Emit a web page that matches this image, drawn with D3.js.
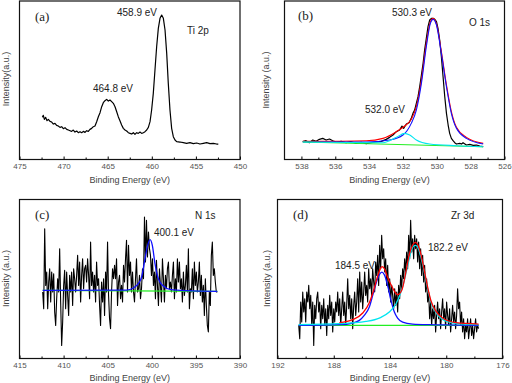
<!DOCTYPE html>
<html><head><meta charset="utf-8">
<script src="https://cdn.jsdelivr.net/npm/d3@7"></script>
<style>body{margin:0;background:#fff}svg{display:block}</style>
</head><body>
<svg id="chart" width="512" height="383"></svg>
<script>
// ---------- (a) Ti 2p ----------
const aEnergy = [472.41,472.30,472.18,472.03,471.88,471.73,471.54,471.35,471.16,470.98,470.79,470.60,470.41,470.22,470.03,469.84,469.65,469.46,469.27,469.09,468.90,468.71,468.52,468.33,468.14,467.95,467.76,467.57,467.39,467.20,467.01,466.82,466.63,466.44,466.25,466.06,465.87,465.68,465.50,465.31,465.12,464.93,464.74,464.55,464.36,464.17,463.98,463.80,463.61,463.42,463.23,463.04,462.85,462.66,462.47,462.28,462.09,461.91,461.72,461.53,461.34,461.15,460.96,460.77,460.58,460.39,460.20,460.02,459.83,459.64,459.45,459.26,459.07,458.88,458.69,458.50,458.31,458.13,457.94,457.75,457.56,457.37,457.18,456.80,456.43,456.05,455.67,455.29,454.91,454.54,454.16,453.78,453.40,453.02,452.65,452.46];
const aIntensity = [127,133,121,127,117,121,115,113,107,109,103,101,97,99,93,96,91,89,87,85,89,83,86,81,84,81,85,82,87,85,91,94,99,101,114,129,141,159,171,177,181,176,179,174,169,159,144,129,117,104,94,89,86,81,79,77,81,76,81,79,83,79,81,84,89,97,114,149,199,269,339,394,424,434,424,389,319,229,149,94,69,59,54,53,51,49,51,48,50,47,49,51,48,49,47,47];
const aTicks = [475,470,465,460,455,450];

// ---------- (b) O 1s ----------
const bEnergy = [537.92,537.73,537.53,537.33,537.13,536.94,536.74,536.54,536.34,536.15,535.95,535.65,535.36,535.06,534.76,534.47,534.17,533.88,533.58,533.28,532.99,532.79,532.59,532.39,532.20,532.06,531.96,531.80,531.64,531.51,531.41,531.31,531.21,531.11,531.01,530.91,530.81,530.72,530.62,530.52,530.42,530.32,530.22,530.12,530.02,529.93,529.83,529.73,529.63,529.53,529.43,529.33,529.24,529.14,529.04,528.94,528.84,528.64,528.54,528.45,528.25,528.05,527.85,527.66,527.46,527.26];
const bIntensity = [54,57,51,59,55,61,64,59,62,57,53,55,51,54,49,52,48,51,53,55,61,67,74,84,89,101,94,107,111,124,139,149,169,189,219,254,289,329,364,399,419,424,424,421,414,394,359,309,249,189,139,104,79,64,57,51,47,49,47,51,44,46,43,44,41,39];
const bEnvelopeEnergy = [537.92,534.17,533.18,532.39,531.90,531.51,531.21,530.91,530.62,530.38,530.22,530.02,529.73,529.43,529.14,528.84,528.25,527.26];
const bEnvelope = [55,57,64,84,101,121,159,239,349,414,424,407,324,224,144,97,67,49];
const bMainEnergy = [537.92,534.17,532.79,532.00,531.51,531.21,530.91,530.62,530.38,530.22,530.02,529.73,529.43,529.14,528.84,528.25,527.26];
const bMain = [53,53,59,74,109,149,229,339,409,421,404,319,219,139,94,64,47];
const bMinorEnergy = [537.92,533.18,532.39,531.90,531.60,531.21,530.42,528.84,527.26];
const bMinor = [53,51,67,79,74,59,47,42,39];
const bBaseEnergy = [537.92,527.26];
const bBase = [53,39];
const bTicks = [538,536,534,532,530,528,526];

// ---------- (c) N 1s ----------
const cEnergyRange = [412.37, 392.57];
const cIntensity = [200,150,390,220,260,150,230,270,170,260,200,255,140,100,180,240,200,330,170,40,110,220,265,150,260,190,130,250,200,260,160,270,240,200,250,310,220,290,170,250,300,210,270,280,230,300,250,180,350,220,260,200,250,170,290,220,240,160,100,230,170,240,130,260,200,350,190,120,90,200,270,240,280,240,300,160,230,250,180,220,170,280,230,300,355,200,340,250,290,200,260,200,170,240,300,200,210,250,180,210,270,240,425,290,415,305,380,330,310,250,300,220,260,180,295,220,160,270,220,170,300,240,170,250,210,270,290,210,230,200,250,290,180,240,200,300,230,290,210,240,170,260,190,220,280,200,330,150,210,200,270,180,290,220,260,200,230,290,190,250,170,220,130,240,160,100,80,200,160,310,350,250,270,230,200,200];
const cPeakEnergy = [412.37,402.85,402.09,401.53,401.15,400.77,400.47,400.20,399.94,399.64,399.26,398.69,397.94,396.05,392.57];
const cPeak = [205,206,212,225,245,300,340,357,340,285,240,218,208,204,202];
const cBaseEnergy = [412.37,392.57];
const cBase = [205,202];
const cTicks = [415,410,405,400,395,390];

// ---------- (d) Zr 3d ----------
const dEnergyRange = [190.49, 177.70];
const dIntensity = [100,60,170,110,200,140,180,110,200,170,220,150,190,100,170,40,160,120,180,200,140,170,90,160,120,180,100,150,70,160,120,190,130,170,80,150,110,170,140,200,130,180,100,150,200,130,170,100,160,240,150,190,120,180,90,160,200,130,170,240,140,260,170,230,150,200,260,190,220,170,270,210,240,190,270,230,200,290,250,310,220,340,270,370,300,330,260,300,220,280,200,240,170,220,190,150,210,160,200,140,220,180,250,210,270,240,300,260,320,270,370,300,415,320,360,300,370,330,360,290,350,270,330,250,310,230,280,200,240,170,200,120,170,100,150,120,160,80,130,170,120,150,90,140,180,120,150,90,170,130,100,150,80,120,160,110,140,90,130,210,150,170,100,140,80,120,60,100,80,120,60,90,120,70,100,60,90,120,80,100,90];
const dEnvelopeEnergy = [187.60,186.66,185.94,185.47,185.11,184.88,184.71,184.57,184.40,184.17,183.81,183.46,183.15,182.86,182.63,182.39,182.20,182.01,181.80,181.56,181.32,181.09,180.73,180.26,179.31,177.70];
const dEnvelope = [108,117,137,168,213,248,268,276,270,244,212,192,207,262,312,341,349,341,312,264,214,174,142,122,108,104];
const dPeak1Energy = [190.50,187.60,186.66,186.18,185.83,185.47,185.23,185.00,184.76,184.57,184.38,184.17,183.93,183.69,183.46,183.10,182.39,181.20,179.31,177.70];
const dPeak1 = [100,102,107,115,130,155,190,225,252,260,250,220,175,140,122,110,104,102,101,100];
const dPeak2Energy = [190.50,187.60,185.71,184.76,184.05,183.57,183.22,182.98,182.74,182.51,182.34,182.20,182.03,181.80,181.56,181.32,181.09,180.73,180.26,179.31,177.70];
const dPeak2 = [102,105,112,122,140,165,200,235,280,320,337,340,335,305,260,210,170,138,118,106,102];
const dBaseEnergy = [190.50,177.70];
const dBase = [100,100];
const dTicks = [192,188,184,180,176];

const svg = d3.select('#chart');
const BLACK = '#000', RED = '#ff0000', BLUE = '#1010ff', CYAN = '#00e5f0', GREEN = '#22ee22';

function panel(o) {
  const g = svg.append('g');
  const x = d3.scaleLinear().domain(o.xDomain).range([o.left, o.right]);
  const y = d3.scaleLinear().domain(o.yDomain).range(o.yRange);
  const line = d3.line().x(d => x(d[0])).y(d => y(d[1]));
  const smooth = d3.line().x(d => x(d[0])).y(d => y(d[1])).curve(d3.curveMonotoneX);

  o.series.forEach(s => {
    g.append('path').datum(d3.zip(s.e, s.v))
      .attr('d', s.smooth ? smooth : line)
      .attr('fill', 'none').attr('stroke', s.color)
      .attr('stroke-width', s.w || 1.1).attr('stroke-linejoin', 'round');
  });

  const ax = g.append('g').attr('transform', `translate(0,${o.bottom})`)
    .call(d3.axisBottom(x).tickValues(o.ticks).tickSize(-3).tickPadding(3.5).tickFormat(d3.format('d')));
  ax.select('.domain').remove();
  ax.selectAll('line').attr('stroke', '#000');
  ax.selectAll('text').attr('fill', '#555').style('font-family', 'Arial, "Liberation Sans", sans-serif').style('font-size', '8px');
  const minor = [];
  for (let i = 0; i < o.ticks.length - 1; i++) minor.push((o.ticks[i] + o.ticks[i + 1]) / 2);
  const mx = g.append('g').attr('transform', `translate(0,${o.bottom})`)
    .call(d3.axisBottom(x).tickValues(minor).tickSize(-2).tickFormat(''));
  mx.select('.domain').remove();
  mx.selectAll('line').attr('stroke', '#000');

  g.append('rect').attr('x', o.left).attr('y', o.top)
    .attr('width', o.right - o.left).attr('height', o.bottom - o.top)
    .attr('fill', 'none').attr('stroke', '#111').attr('stroke-width', 1.2);

  const sans = 'Arial, "Liberation Sans", sans-serif';
  g.append('text').attr('x', (o.left + o.right) / 2 + o.titleDx).attr('y', o.titleY)
    .attr('text-anchor', 'middle').attr('fill', '#444')
    .style('font-family', sans).style('font-size', '9px').text('Binding Energy (eV)');
  g.append('text').attr('transform', `translate(${o.ylabX},${o.ylabY}) rotate(-90)`)
    .attr('text-anchor', 'middle').attr('fill', '#444')
    .style('font-family', sans).style('font-size', '9px').text(o.ylab);
  g.append('text').attr('x', o.letter[1]).attr('y', o.letter[2])
    .attr('fill', '#222').style('font-family', '"Liberation Serif", "Times New Roman", serif')
    .style('font-size', '13px').text(o.letter[0]);
  o.notes.forEach(n => {
    g.append('text').attr('x', n[1]).attr('y', n[2]).attr('fill', '#222')
      .style('font-family', sans).style('font-size', '10px').text(n[0]);
  });
}

panel({
  left: 19.5, right: 240, top: 1, bottom: 159.5,
  xDomain: [475, 450], yDomain: [0, 476], yRange: [159.7, 1],
  ticks: aTicks, titleDx: 0, titleY: 183, ylab: 'Intensity(a.u.)', ylabX: 8.5, ylabY: 79,
  letter: ['(a)', 35, 21], notes: [['458.9 eV', 117, 16], ['Ti 2p', 187, 34], ['464.8 eV', 93, 92]],
  series: [{ e: aEnergy, v: aIntensity, color: BLACK, w: 1.2 }]
});

panel({
  left: 284.5, right: 504.5, top: 1, bottom: 159.5,
  xDomain: [539, 526], yDomain: [0, 476], yRange: [159.7, 1],
  ticks: bTicks, titleDx: -5, titleY: 183, ylab: 'Intensity (a.u.)', ylabX: 269, ylabY: 80,
  letter: ['(b)', 298, 20], notes: [['530.3 eV', 392, 16], ['O 1s', 469, 26], ['532.0 eV', 365, 113]],
  series: [
    { e: bEnergy, v: bIntensity, color: BLACK, w: 1.2 },
    { e: bEnvelopeEnergy, v: bEnvelope, color: RED, smooth: true },
    { e: bMainEnergy, v: bMain, color: BLUE, smooth: true },
    { e: bBaseEnergy, v: bBase, color: GREEN },
    { e: bMinorEnergy, v: bMinor, color: CYAN, smooth: true }
  ]
});

const cEnergy = d3.range(cIntensity.length).map(i => cEnergyRange[0] + (cEnergyRange[1] - cEnergyRange[0]) * i / (cIntensity.length - 1));
panel({
  left: 19.5, right: 240, top: 199.5, bottom: 358.5,
  xDomain: [415, 390], yDomain: [0, 480], yRange: [358.7, 198.7],
  ticks: cTicks, titleDx: 0, titleY: 380.5, ylab: 'Intensity (a.u.)', ylabX: 8.5, ylabY: 278.5,
  letter: ['(c)', 35, 219], notes: [['400.1 eV', 154, 235.5], ['N 1s', 195, 219]],
  series: [
    { e: cEnergy, v: cIntensity, color: BLACK, w: 1.1 },
    { e: cBaseEnergy, v: cBase, color: GREEN },
    { e: cPeakEnergy, v: cPeak, color: BLUE, w: 1.3, smooth: true }
  ]
});

const dEnergy = d3.range(dIntensity.length).map(i => dEnergyRange[0] + (dEnergyRange[1] - dEnergyRange[0]) * i / (dIntensity.length - 1));
panel({
  left: 277.5, right: 502.5, top: 199.5, bottom: 358.5,
  xDomain: [192, 176], yDomain: [0, 480], yRange: [358.7, 198.7],
  ticks: dTicks, titleDx: 0, titleY: 380.5, ylab: 'Intensity (a.u.)', ylabX: 270, ylabY: 278.5,
  letter: ['(d)', 293, 219], notes: [['Zr 3d', 451, 219], ['182.2 eV', 428, 250.5], ['184.5 eV', 335, 268.5]],
  series: [
    { e: dEnergy, v: dIntensity, color: BLACK, w: 1.1 },
    { e: dBaseEnergy, v: dBase, color: GREEN },
    { e: dPeak1Energy, v: dPeak1, color: BLUE, w: 1.3, smooth: true },
    { e: dPeak2Energy, v: dPeak2, color: CYAN, w: 1.3, smooth: true },
    { e: dEnvelopeEnergy, v: dEnvelope, color: RED, w: 1.3, smooth: true }
  ]
});
</script>
</body></html>
